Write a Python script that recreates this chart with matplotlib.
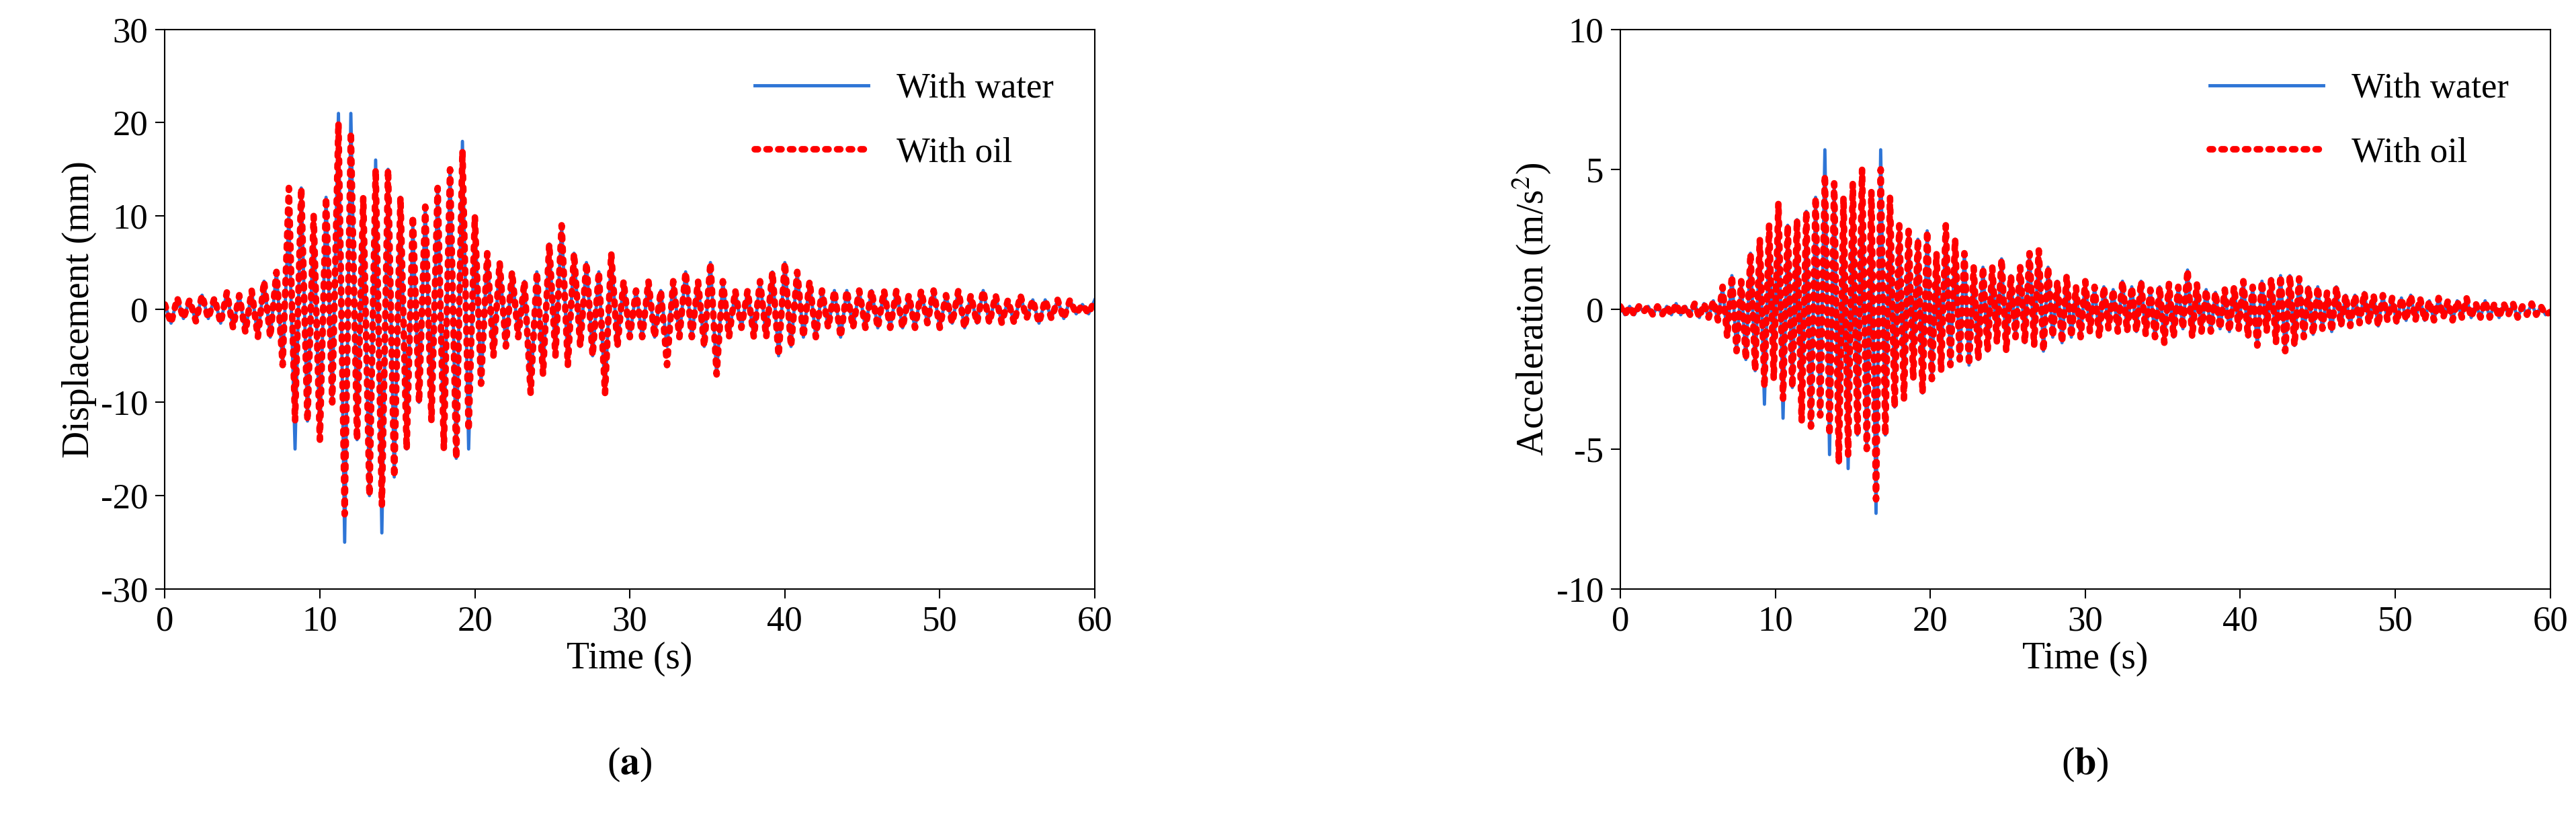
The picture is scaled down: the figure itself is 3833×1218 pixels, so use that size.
import numpy as np
import matplotlib
matplotlib.use("Agg")
import matplotlib.pyplot as plt

plt.rcParams['font.family'] = ['Liberation Serif', 'DejaVu Serif']
plt.rcParams['mathtext.fontset'] = 'stix'
plt.rcParams['axes.unicode_minus'] = False

disp_t = np.linspace(0, 60, 151)
disp_water = [0.5,-1.5,1.2,-1,1,-1.3,1.5,-1,1.2,-1.5,1.8,-2,1.5,-2.5,2,-3,3,-3,
 4,-6,10,-15,13,-12,10,-14,12,-10,
 21,-25,21,-14,12,-20,16,-24,15,-18,
 12,-15,9,-10,11,-12,13,-15,15,-16,
 18,-15,10,-8,6,-5,5,-4,4,-3,
 3,-9,4,-7,7,-5,9,-6,6,-4,
 5,-5,4,-9,6,-4,3,-3,2,-3,
 3,-3,2,-4,3,-3,4,-3,3,-4,
 5,-7,3,-3,2,-2,2,-3,3,-3,
 4,-5,5,-4,4,-3,3,-3,2,-2,
 2,-3,2,-2,2,-2,2,-2,2,-2,
 2,-2,1.5,-2,2,-1.5,2,-2,1.5,-1.5,
 2,-2,1.5,-1.5,2,-1.5,1.5,-1.5,1,-1.5,
 1.5,-1,1,-1.5,1,-1,1,-1,1,-0.5,
 0.5,-0.5,1]
disp_oil_changes = {20: 13, 21: -12, 28: 20, 29: -22, 30: 19, 34: 15, 35: -21, 40: 10, 48: 17, 49: -13, 61: -7, 81: -6}
disp_oil = list(disp_water)
for k, v in disp_oil_changes.items():
    disp_oil[k] = v

acc_t = np.linspace(0, 60, 201)
acc_water = [0.1,-0.2,0.1,-0.2,0.1,-0.1,0.1,-0.2,0.1,-0.2,
 0.1,-0.2,0.2,-0.2,0.1,-0.2,0.2,-0.3,0.2,-0.3,
 0.3,-0.4,0.8,-1,1.2,-1.5,1,-1.8,2,-2.2,
 2.5,-3.4,3,-2.5,3.8,-3.9,3,-2.8,3.2,-4,
 3.5,-4.2,4,-3.8,5.7,-5.2,4.5,-5.5,4,-5.7,
 4.5,-4.5,5,-5,4.2,-7.3,5.7,-4.5,4,-3.5,
 3,-3.2,2.8,-2.5,2.5,-3,2.8,-2.5,2,-2.2,
 3,-2,2.5,-1.8,2,-2,1.5,-1.8,1.5,-1.5,
 1.5,-1.2,1.8,-1.5,1.2,-1,1.5,-1.2,2,-1.3,
 2.1,-1.5,1.5,-1,1,-1.2,1.2,-1,0.8,-1,
 1,-0.8,0.8,-1,0.8,-0.7,0.7,-0.8,1,-0.8,
 0.8,-0.8,1,-0.9,0.7,-1,0.8,-1.2,0.9,-1,
 0.8,-0.7,1.4,-1,0.9,-0.8,0.7,-0.8,0.6,-0.7,
 0.7,-0.8,0.8,-0.7,1,-1,0.8,-1.3,1,-0.8,
 1.1,-1.2,1.2,-1.5,1.2,-1.3,1.1,-1,0.8,-0.9,
 0.8,-0.7,0.6,-0.8,0.8,-0.6,0.5,-0.6,0.5,-0.5,
 0.6,-0.5,0.5,-0.6,0.5,-0.4,0.4,-0.5,0.4,-0.4,
 0.5,-0.4,0.4,-0.4,0.3,-0.4,0.4,-0.3,0.3,-0.4,
 0.3,-0.3,0.4,-0.3,0.2,-0.3,0.3,-0.3,0.2,-0.3,
 0.2,-0.2,0.2,-0.3,0.1,-0.2,0.2,-0.2,0.1,-0.2,
 -0.1]
acc_oil_changes = {31: -2.8, 35: -3.2, 44: 4.8, 45: -4.5, 49: -5.2, 55: -6.8, 56: 5.0}
acc_oil = list(acc_water)
for k, v in acc_oil_changes.items():
    acc_oil[k] = v

fig = plt.figure(figsize=(38.33, 12.18), dpi=100)
fs = 38
panels = [
    (0.064, disp_t, disp_water, disp_oil, (-30, 30), 10, 'Displacement (mm)', 'a'),
    (0.629, acc_t, acc_water, acc_oil, (-10, 10), 5, 'Acceleration (m/s$^2$)', 'b'),
]
for x0, t, w, o, yl, ys, ylab, letter in panels:
    ax = fig.add_axes([x0, 0.281, 0.361, 0.683])
    ax.plot(t, w, color='#2E75D6', lw=3.5, label='With water')
    ax.plot(t, o, color='red', lw=7, ls=(0, (0.5, 1.3)), dash_capstyle='round', label='With oil')
    ax.set_xlim(0, 60)
    ax.set_ylim(*yl)
    ax.set_xticks(range(0, 61, 10))
    ax.set_yticks(np.arange(yl[0], yl[1] + 0.1, ys))
    ax.tick_params(labelsize=fs, direction='out', length=10, width=1.5, pad=8)
    for s in ax.spines.values():
        s.set_linewidth(1.5)
    ax.set_xlabel('Time (s)', fontsize=fs + 2)
    ax.set_ylabel(ylab, fontsize=fs + 2)
    ax.legend(loc='upper right', bbox_to_anchor=(0.99, 0.98), frameon=False,
              fontsize=fs, handlelength=3.2, labelspacing=0.9)
    ax.text(0.5, -0.315, r'($\mathbf{' + letter + '}$)', transform=ax.transAxes,
            ha='center', va='center', fontsize=fs + 4)
fig.savefig('out.png', dpi=100)
